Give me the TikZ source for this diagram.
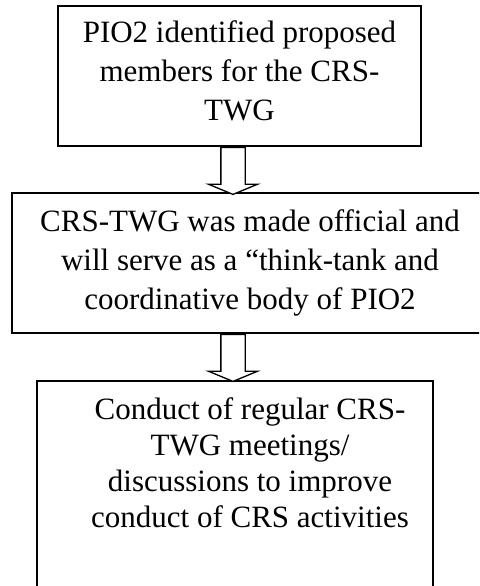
\documentclass[tikz,border=0pt]{standalone}
\usepackage{fontspec}
\setmainfont{Liberation Serif}
\usetikzlibrary{positioning,shapes.arrows}
\tikzset{
  fcbox/.style={draw=black, line width=1.5pt, fill=white, align=center, inner sep=0pt, font=\fontsize{31}{39}\selectfont},
  fctext/.style={align=center, inner sep=0pt, font=\fontsize{31}{36}\selectfont},
  fcarrow/.style={draw=black, line width=1.3pt, fill=white, single arrow, shape border rotate=270, minimum height=47pt, single arrow head extend=12.5pt, single arrow tip angle=135, inner sep=11.5pt}
}

\begin{document}
\begin{tikzpicture}[x=1pt, y=1pt]
  \useasboundingbox (0,0) rectangle (479,-586);
  \clip (0,0) rectangle (479,-586);

  \node[fcbox, minimum width=363pt, minimum height=140pt] (ident) at (239.5,-76) {PIO2 identified proposed\\members for the CRS-\\TWG\strut};
  \node[fcbox, minimum width=476pt, minimum height=140pt] (official) at (250,-263) {CRS-TWG was made official and\\will serve as a “think-tank and\\coordinative body of PIO2};
  \node[fcbox, anchor=north west, minimum width=396pt, minimum height=230pt] (meet) at (36,-380) {};
  \node[fctext, anchor=north] (meettext) at (250,-397.5) {Conduct of regular CRS-\\TWG meetings/\\discussions to improve\\conduct of CRS activities};

  \node[fcarrow, anchor=tail] (arr1) at (ident.south -| 233,0) {};
  \node[fcarrow, anchor=tail] (arr2) at (official.south -| 233,0) {};
\end{tikzpicture}
\end{document}
